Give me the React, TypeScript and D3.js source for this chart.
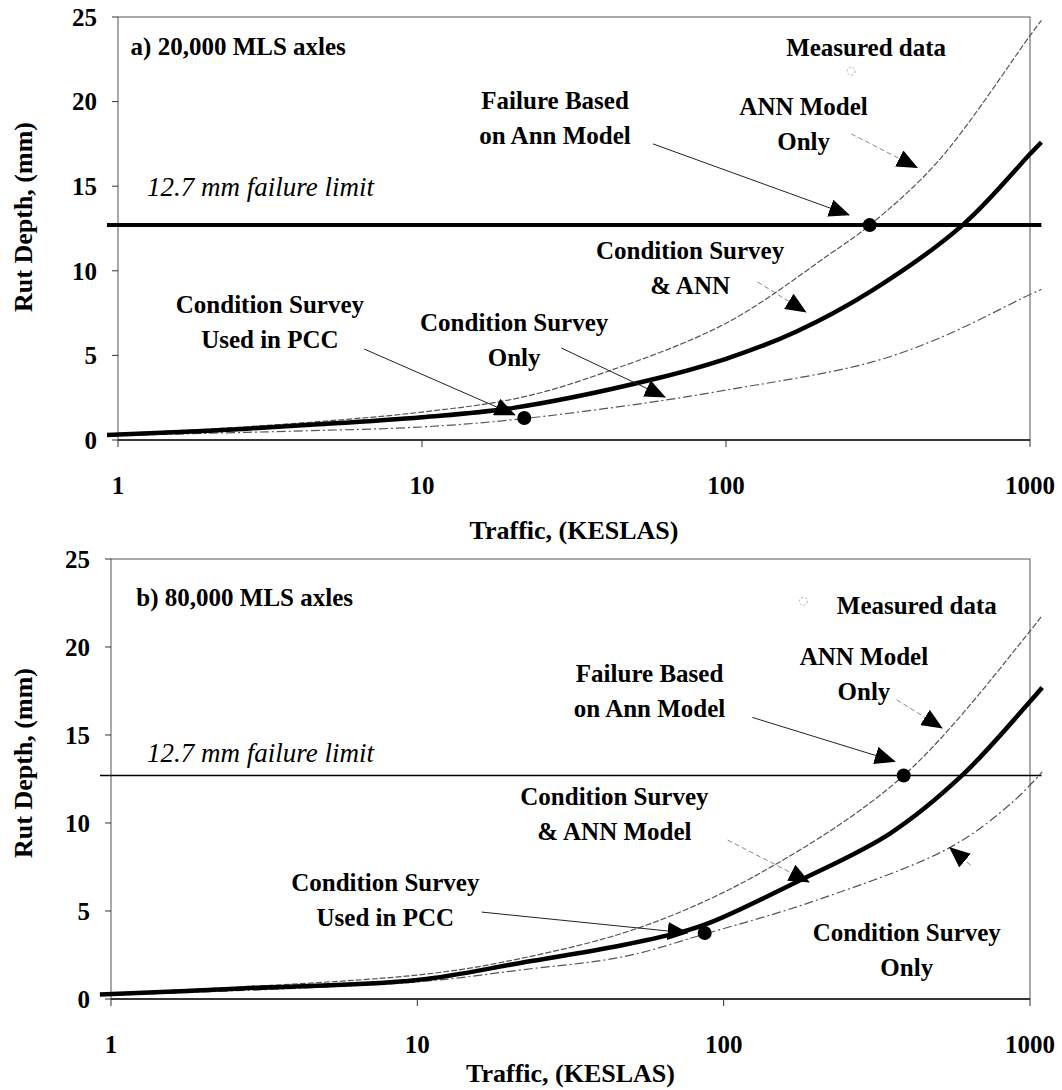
import React from "react";
import * as d3 from "d3";

// axis ticks
const xTicks = [1, 10, 100, 1000];
const yTicks = [0, 5, 10, 15, 20, 25];
const failureLimit = 12.7;

// ---- a) 20,000 MLS axles ----
const aThickT = [0.92, 2, 4.3, 10, 20, 55, 100, 170, 300, 600, 1000, 1090];
const aThickR = [0.3, 0.55, 0.9, 1.35, 1.9, 3.5, 4.8, 6.4, 8.8, 12.7, 16.9, 17.6];
const aUpperT = [0.92, 2, 4.3, 10, 21, 40, 100, 220, 297, 500, 1000, 1090];
const aUpperR = [0.35, 0.65, 1.05, 1.65, 2.5, 4.0, 6.9, 11.0, 12.7, 16.5, 23.9, 24.8];
const aLowerT = [0.92, 2, 4.3, 10, 20, 55, 100, 287, 500, 1000, 1090];
const aLowerR = [0.25, 0.4, 0.55, 0.77, 1.2, 2.2, 2.95, 4.5, 6.0, 8.6, 8.9];
const aDotT = [21.7, 297];
const aDotR = [1.3, 12.7];

// ---- b) 80,000 MLS axles ----
const bThickT = [0.92, 2.66, 10, 21.7, 47, 76, 92, 173, 349, 600, 1000, 1096];
const bThickR = [0.25, 0.6, 1.08, 2.05, 3.07, 3.9, 4.4, 6.65, 9.4, 12.7, 16.9, 17.7];
const bUpperT = [0.92, 10, 21.7, 54, 133, 387, 1000, 1096];
const bUpperR = [0.3, 1.36, 2.3, 4.1, 7.2, 12.7, 20.9, 21.8];
const bLowerT = [0.92, 10, 21.7, 47, 87, 200, 547, 866, 1096];
const bLowerR = [0.2, 0.97, 1.65, 2.4, 3.7, 5.6, 8.6, 11.1, 12.9];
const bDotT = [86.7, 387];
const bDotR = [3.75, 12.7];

type Label = { lines: string[]; t: number; r: number };
type Arrow = { t0: number; r0: number; t1: number; r1: number; faint?: boolean };

const aLabels: Label[] = [
  { lines: ["Condition Survey", "Used in PCC"], t: 3.16, r: 8.04 },
  { lines: ["Condition Survey", "Only"], t: 20.1, r: 6.97 },
  { lines: ["Condition Survey", "& ANN"], t: 76.2, r: 11.23 },
  { lines: ["Failure Based", "on Ann Model"], t: 27.4, r: 20.1 },
  { lines: ["ANN Model", "Only"], t: 180, r: 19.7 },
  { lines: ["Measured data"], t: 289, r: 23.2 },
];
const aArrows: Arrow[] = [
  { t0: 6.45, r0: 5.38, t1: 20.2, r1: 1.48 },
  { t0: 28.7, r0: 5.44, t1: 63, r1: 2.54 },
  { t0: 127, r0: 9.34, t1: 183, r1: 7.57, faint: true },
  { t0: 57.5, r0: 17.5, t1: 254, r1: 13.3 },
  { t0: 258, r0: 18.1, t1: 425, r1: 16.1, faint: true },
];

const bLabels: Label[] = [
  { lines: ["Failure Based", "on Ann Model"], t: 57.3, r: 18.5 },
  { lines: ["ANN Model", "Only"], t: 287, r: 19.5 },
  { lines: ["Condition Survey", "& ANN Model"], t: 44, r: 11.5 },
  { lines: ["Condition Survey", "Used in PCC"], t: 7.86, r: 6.65 },
  { lines: ["Condition Survey", "Only"], t: 396, r: 3.8 },
  { lines: ["Measured data"], t: 427, r: 22.4 },
];
const bArrows: Arrow[] = [
  { t0: 16.2, r0: 4.94, t1: 76.3, r1: 3.75 },
  { t0: 103, r0: 9.03, t1: 190, r1: 6.65, faint: true },
  { t0: 124, r0: 16.0, t1: 362, r1: 13.5 },
  { t0: 367, r0: 17.0, t1: 516, r1: 15.4, faint: true },
  { t0: 640, r0: 7.6, t1: 547, r1: 8.6, faint: true },
];

const FONT = "'Liberation Serif', 'Times New Roman', serif";

function zip(t: number[], r: number[]): [number, number][] {
  return t.map((v, i) => [v, r[i]]);
}

function Panel(props: any) {
  const { id, frame, thick, upper, lower, dots, labels, arrows, title, titlePos, limitPos, limitWidth, measured, xTitleY, yTitleY } = props;
  const x = d3.scaleLog().domain([1, 1000]).range([frame.left, frame.right]);
  const y = d3.scaleLinear().domain([0, 25]).range([frame.bottom, frame.top]);
  const line = d3.line<[number, number]>().x(d => x(d[0])).y(d => y(d[1])).curve(d3.curveCatmullRom.alpha(0.5));

  return (
    <g fontFamily={FONT} fontWeight="bold">
      <defs>
        <marker id={"head" + id} viewBox="0 0 21 18" refX="20" refY="9" markerWidth="21" markerHeight="18" markerUnits="userSpaceOnUse" orient="auto">
          <path d="M0,0 L21,9 L0,18 Z" fill="#000" />
        </marker>
      </defs>
      {/* frame */}
      <rect x={frame.left} y={frame.top} width={frame.right - frame.left} height={frame.bottom - frame.top} fill="none" stroke="#555" strokeWidth={1} />
      <line x1={frame.left} x2={frame.right} y1={frame.bottom} y2={frame.bottom} stroke="#111" strokeWidth={1.5} />
      {yTicks.map(v => (
        <g key={"y" + v}>
          <line x1={frame.left - 6} x2={frame.left} y1={y(v)} y2={y(v)} stroke="#333" />
          <text x={frame.left - 21} y={y(v)} dy="0.35em" textAnchor="end" fontSize={25}>{v}</text>
        </g>
      ))}
      {xTicks.map(v => (
        <g key={"x" + v}>
          <line x1={x(v)} x2={x(v)} y1={frame.bottom} y2={frame.bottom + 7} stroke="#333" />
          <text x={x(v)} y={frame.bottom + 45} dy="0.35em" textAnchor="middle" fontSize={25}>{v}</text>
        </g>
      ))}
      <text x={(frame.left + frame.right) / 2} y={xTitleY} dy="0.35em" textAnchor="middle" fontSize={26}>Traffic, (KESLAS)</text>
      <text transform={`translate(23,${yTitleY}) rotate(-90)`} dy="0.35em" textAnchor="middle" fontSize={26}>Rut Depth, (mm)</text>

      {/* failure limit */}
      <line x1={frame.left - 11} x2={x(1090)} y1={y(failureLimit)} y2={y(failureLimit)} stroke="#000" strokeWidth={limitWidth} />
      <text x={x(limitPos[0])} y={y(limitPos[1])} dy="0.35em" fontSize={27} fontStyle="italic" fontWeight="normal">12.7 mm failure limit</text>
      <text x={x(titlePos[0])} y={y(titlePos[1])} dy="0.35em" fontSize={25}>{title}</text>

      {/* curves */}
      <path d={line(upper) || ""} fill="none" stroke="#555" strokeWidth={1.2} strokeDasharray="6 2" />
      <path d={line(lower) || ""} fill="none" stroke="#555" strokeWidth={1.2} strokeDasharray="9 3 2 3" />
      <path d={line(thick) || ""} fill="none" stroke="#000" strokeWidth={4.5} strokeLinejoin="round" />
      {dots.map((d: [number, number], i: number) => (
        <circle key={"d" + i} cx={x(d[0])} cy={y(d[1])} r={7} fill="#000" />
      ))}
      <circle cx={x(measured[0])} cy={y(measured[1])} r={4} fill="none" stroke="#aaa" strokeWidth={1} strokeDasharray="2 2" />

      {/* annotations */}
      {arrows.map((a: Arrow, i: number) => (
        <line key={"a" + i} x1={x(a.t0)} y1={y(a.r0)} x2={x(a.t1)} y2={y(a.r1)}
          stroke={a.faint ? "#888" : "#222"} strokeWidth={1} strokeDasharray={a.faint ? "5 3" : undefined}
          markerEnd={`url(#head${id})`} />
      ))}
      {labels.map((l: Label, i: number) => (
        <text key={"l" + i} x={x(l.t)} y={y(l.r)} textAnchor="middle" fontSize={25}>
          {l.lines.map((s, j) => (
            <tspan key={j} x={x(l.t)} dy={j === 0 ? "0.35em" : 35}>{s}</tspan>
          ))}
        </text>
      ))}
    </g>
  );
}

export default function App() {
  return (
    <div style={{ position: "absolute", left: 0, top: 0 }}>
      <svg width={1062} height={1090} style={{ display: "block", background: "#fff" }}>
        <Panel id="a"
          frame={{ left: 118, right: 1030, top: 17, bottom: 440 }}
          thick={zip(aThickT, aThickR)} upper={zip(aUpperT, aUpperR)} lower={zip(aLowerT, aLowerR)}
          dots={zip(aDotT, aDotR)} labels={aLabels} arrows={aArrows}
          title="a) 20,000 MLS axles" titlePos={[1.1, 23.3]} limitPos={[1.246, 15.0]} limitWidth={4}
          measured={[258, 21.8]} xTitleY={530} yTitleY={217} />
        <Panel id="b"
          frame={{ left: 111, right: 1030, top: 559, bottom: 999 }}
          thick={zip(bThickT, bThickR)} upper={zip(bUpperT, bUpperR)} lower={zip(bLowerT, bLowerR)}
          dots={zip(bDotT, bDotR)} labels={bLabels} arrows={bArrows}
          title="b) 80,000 MLS axles" titlePos={[1.21, 22.8]} limitPos={[1.31, 14.03]} limitWidth={1.5}
          measured={[182, 22.6]} xTitleY={1073} yTitleY={763} />
      </svg>
    </div>
  );
}
